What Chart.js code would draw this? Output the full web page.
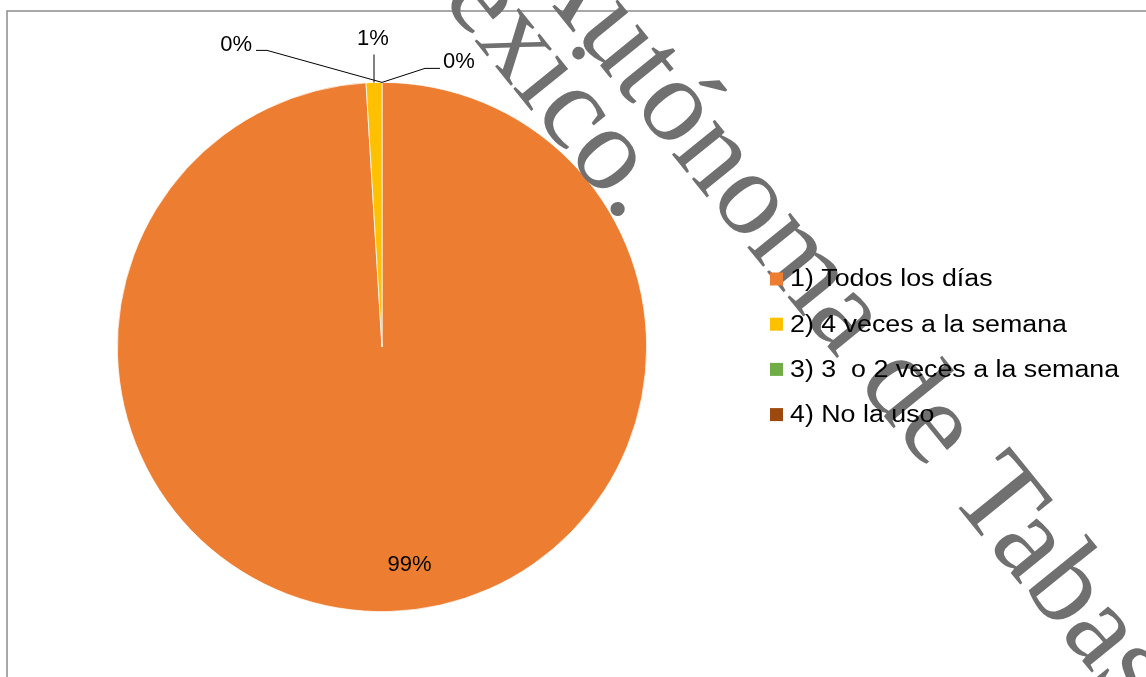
<!DOCTYPE html>
<html lang="es">
<head>
<meta charset="utf-8">
<title>Frecuencia de uso</title>
<script src="https://cdn.jsdelivr.net/npm/chart.js@4.4.1/dist/chart.umd.min.js"></script>
<style>
  html, body { margin: 0; padding: 0; background: #fff; overflow: hidden; }
  #wrap { position: relative; width: 1146px; height: 677px; }
</style>
</head>
<body>
<div id="wrap"><canvas id="pieChart" width="1146" height="677"></canvas></div>
<script>
// Chart data
const categories = ['1) Todos los días', '2) 4 veces a la semana', '3) 3  o 2 veces a la semana', '4) No la uso'];
const responses = [103, 1, 0, 0];
const sliceColors = ['#ED7D31', '#FFC000', '#70AD47', '#9E480E'];

const FONT = "'Liberation Sans', Arial, sans-serif";

function percentLabel(value) {
    const total = responses.reduce((a, b) => a + b, 0);
    return Math.round(value / total * 100) + '%';
}

// Grey frame of the chart area (runs off the right and bottom edges)
const framePlugin = {
    id: 'frame',
    beforeDraw(chart) {
        const ctx = chart.ctx;
        ctx.save();
        ctx.strokeStyle = '#8c8c8c';
        ctx.lineWidth = 1.5;
        ctx.strokeRect(7, 11, 1300, 900);
        ctx.restore();
    }
};

// Diagonal watermark, drawn over the pie but under the texts
const watermarkPlugin = {
    id: 'watermark',
    afterDatasetsDraw(chart) {
        const ctx = chart.ctx;
        const angle = 51 * Math.PI / 180;
        ctx.save();
        ctx.fillStyle = '#707070';
        ctx.font = "120px 'Liberation Serif', 'Times New Roman', serif";
        ctx.textBaseline = 'alphabetic';

        // line with "Autónoma de Tabasco", anchored on the "T"
        ctx.save();
        ctx.translate(947, 494);
        ctx.rotate(angle);
        ctx.textAlign = 'left';
        ctx.fillText('Autónoma de Tabasco', -ctx.measureText('Autónoma de ').width, 0);
        ctx.restore();

        // line with "México.", anchored on its end
        ctx.save();
        ctx.translate(623, 224);
        ctx.rotate(angle);
        ctx.textAlign = 'right';
        ctx.fillText('México.', 0, 0);
        ctx.restore();

        ctx.restore();
    }
};

// Percentage labels with leader lines
const labelPlacement = [
    { inside: 0.82, text: [21, 1], align: 'center' },
    { elbow: [0, -28], end: [0, -28], text: [-1, -44], align: 'center' },
    { elbow: [-115, -32], end: [-126, -32], text: [-130, -37], align: 'right' },
    { elbow: [43, -14], end: [58, -14], text: [61, -20], align: 'left' }
];

const sliceLabelPlugin = {
    id: 'sliceLabels',
    afterDraw(chart) {
        const ctx = chart.ctx;
        const meta = chart.getDatasetMeta(0);
        ctx.save();
        ctx.font = '22px ' + FONT;
        ctx.fillStyle = '#000';
        ctx.strokeStyle = '#000';
        ctx.lineWidth = 1;
        ctx.textBaseline = 'middle';
        meta.data.forEach((arc, i) => {
            const p = arc.getProps(['x', 'y', 'startAngle', 'endAngle', 'outerRadius'], true);
            const mid = (p.startAngle + p.endAngle) / 2;
            const place = labelPlacement[i];
            const text = percentLabel(responses[i]);
            ctx.textAlign = place.align;
            if (place.inside) {
                const r = p.outerRadius * place.inside;
                ctx.fillText(text, p.x + r * Math.cos(mid) + place.text[0], p.y + r * Math.sin(mid) + place.text[1]);
                return;
            }
            const ax = p.x + p.outerRadius * Math.cos(mid);
            const ay = p.y + p.outerRadius * Math.sin(mid);
            ctx.beginPath();
            ctx.moveTo(ax, ay);
            ctx.lineTo(ax + place.elbow[0], ay + place.elbow[1]);
            ctx.lineTo(ax + place.end[0], ay + place.end[1]);
            ctx.stroke();
            ctx.fillText(text, ax + place.text[0], ay + place.text[1]);
        });
        ctx.restore();
    }
};

// Legend on the right, drawn last so it sits above the watermark
const legendPlugin = {
    id: 'sideLegend',
    afterDraw(chart) {
        const ctx = chart.ctx;
        const x = 770, y0 = 279, step = 45.2, box = 13, stretch = 1.14;
        ctx.save();
        ctx.font = '23.5px ' + FONT;
        ctx.textAlign = 'left';
        ctx.textBaseline = 'middle';
        categories.forEach((label, i) => {
            const y = y0 + i * step;
            ctx.fillStyle = sliceColors[i];
            ctx.fillRect(x, y - box / 2, box, box);
            ctx.fillStyle = '#000';
            ctx.save();
            ctx.translate(x + 20, y + 1);
            ctx.scale(stretch, 1);
            ctx.fillText(label, 0, 0);
            ctx.restore();
        });
        ctx.restore();
    }
};

const ctx = document.getElementById('pieChart').getContext('2d');
const pieChart = new Chart(ctx, {
    type: 'pie',
    data: {
        labels: categories,
        datasets: [{
            data: responses,
            backgroundColor: sliceColors,
            borderColor: '#ffffff',
            borderWidth: 0.75
        }]
    },
    options: {
        responsive: false,
        animation: false,
        layout: {
            padding: { left: 117, right: 499, top: 82, bottom: 65 }
        },
        plugins: {
            legend: { display: false },
            tooltip: { enabled: false }
        }
    },
    plugins: [framePlugin, watermarkPlugin, sliceLabelPlugin, legendPlugin]
});
</script>
</body>
</html>
